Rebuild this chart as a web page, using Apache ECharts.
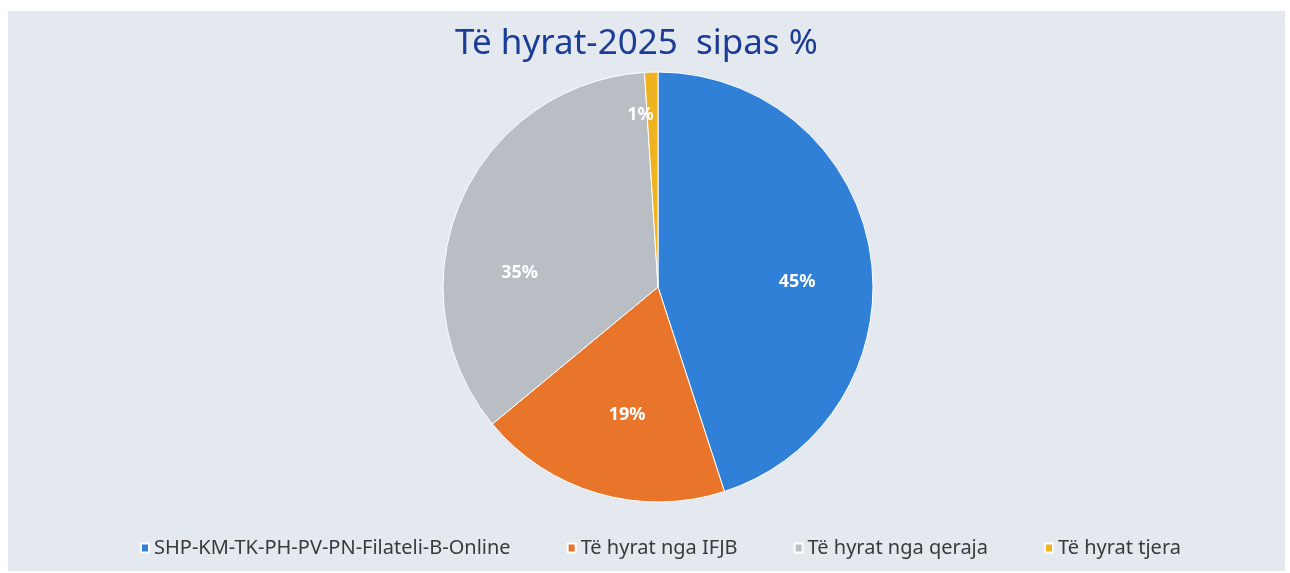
<!DOCTYPE html>
<html>
<head>
<meta charset="utf-8">
<script src="https://cdn.jsdelivr.net/npm/echarts@6/dist/echarts.min.js"></script>
<style>
  html, body { margin: 0; padding: 0; background: #fff; }
  #main { width: 1290px; height: 573px; }
</style>
</head>
<body>
<div id="main"></div>
<script>
// income shares 2025 (%)
var categories = ['SHP-KM-TK-PH-PV-PN-Filateli-B-Online', 'Të hyrat nga IFJB', 'Të hyrat nga qeraja', 'Të hyrat tjera']
var shares = [45, 19, 35, 1]
var colors = ['#3080d8', '#e8752a', '#b9bdc4', '#efb221']
// nudge of each percentage label away from the default inside spot
var labelShift = [[30, 12], [0, 22], [-37, 30], [-14, -62]]

var chart = echarts.init(document.getElementById('main'))

chart.setOption({
  backgroundColor: '#ffffff',
  graphic: [{
    type: 'rect',
    z: -10,
    shape: { x: 8, y: 11, width: 1277, height: 560 },
    style: { fill: '#e4e8ef' }
  }],
  title: {
    text: 'Të hyrat-2025  sipas %',
    left: 450,
    top: 22,
    textStyle: {
      fontFamily: 'Noto Sans',
      fontSize: 35,
      fontWeight: 'normal',
      color: '#1b3c97'
    }
  },
  legend: {
    data: categories,
    bottom: 10,
    left: 135,
    icon: 'rect',
    itemWidth: 8,
    itemHeight: 9,
    itemGap: 56,
    textStyle: {
      fontFamily: 'Noto Sans',
      fontSize: 20,
      color: '#3a3a3a'
    }
  },
  series: [{
    type: 'pie',
    center: [658, 287],
    radius: 215,
    startAngle: 90,
    clockwise: true,
    silent: true,
    itemStyle: {
      borderColor: '#ffffff',
      borderWidth: 1
    },
    label: {
      show: true,
      position: 'inside',
      formatter: '{c}%',
      color: '#ffffff',
      fontFamily: 'Noto Sans',
      fontWeight: 'bold',
      fontSize: 18
    },
    labelLine: { show: false },
    labelLayout: function (params) {
      var s = labelShift[params.dataIndex]
      return { dx: s[0], dy: s[1] }
    },
    data: categories.map(function (name, i) {
      return { name: name, value: shares[i], itemStyle: { color: colors[i] } }
    })
  }]
})
</script>
</body>
</html>
